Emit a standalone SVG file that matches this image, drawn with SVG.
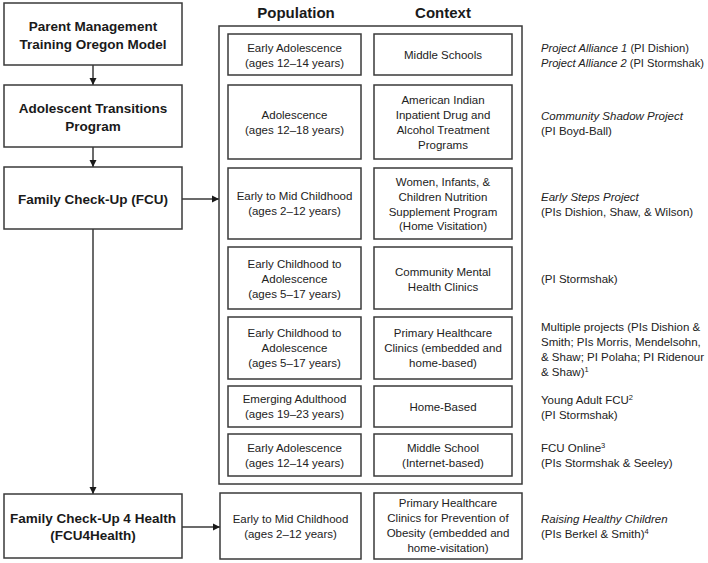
<svg xmlns="http://www.w3.org/2000/svg" width="708" height="563" viewBox="0 0 708 563">
<style>
.box{fill:#fff;stroke:#3a3a3a;stroke-width:1.5}
.b{font-family:"Liberation Sans",Arial,sans-serif;font-size:13.5px;font-weight:bold;fill:#1a1a1a;text-anchor:middle}
.h{font-family:"Liberation Sans",Arial,sans-serif;font-size:15px;font-weight:bold;fill:#1a1a1a;text-anchor:middle}
.t{font-family:"Liberation Sans",Arial,sans-serif;font-size:11.5px;fill:#222;text-anchor:middle}
.r{font-family:"Liberation Sans",Arial,sans-serif;font-size:11.5px;fill:#222}
.i{font-style:italic}
.c{fill:none;stroke:#3a3a3a;stroke-width:1.5}
</style>
<defs>
<marker id="ah" viewBox="0 0 10 10" refX="10" refY="5" markerWidth="5" markerHeight="5" markerUnits="strokeWidth" orient="auto">
<path d="M0,0 L10,5 L0,10 z" fill="#1a1a1a"/>
</marker>
</defs>
<g id="connectors">
<line class="c" x1="93" y1="65" x2="93" y2="85" marker-end="url(#ah)"/>
<line class="c" x1="93" y1="147" x2="93" y2="167" marker-end="url(#ah)"/>
<line class="c" x1="93" y1="229" x2="93" y2="494" marker-end="url(#ah)"/>
<line class="c" x1="182" y1="199" x2="219" y2="199" marker-end="url(#ah)"/>
<line class="c" x1="182" y1="527" x2="220" y2="527" marker-end="url(#ah)"/>
</g>
<g id="pmto"><rect class="box" x="4" y="3" width="178" height="62"/>
<text class="b" x="93" y="31">Parent Management</text><text class="b" x="93" y="49">Training Oregon Model</text></g>
<g id="atp"><rect class="box" x="4" y="85" width="178" height="62"/>
<text class="b" x="93" y="113">Adolescent Transitions</text><text class="b" x="93" y="131">Program</text></g>
<g id="fcu"><rect class="box" x="4" y="167" width="178" height="62"/>
<text class="b" x="93" y="204">Family Check-Up (FCU)</text></g>
<g id="fcu4h"><rect class="box" x="4" y="494" width="178" height="64"/>
<text class="b" x="93" y="523">Family Check-Up 4 Health</text><text class="b" x="93" y="540">(FCU4Health)</text></g>
<g id="headers"><text class="h" x="296" y="18">Population</text><text class="h" x="443" y="18">Context</text></g>
<g id="container"><rect class="box" x="219" y="26" width="303" height="458"/></g>
<g id="row1">
<rect class="box" x="228" y="34" width="133" height="41"/>
<text class="t" x="294.5" y="52">Early Adolescence</text><text class="t" x="294.5" y="67">(ages 12–14 years)</text>
<rect class="box" x="374" y="34" width="138" height="41"/>
<text class="t" x="443" y="59">Middle Schools</text>
</g>
<g id="row2">
<rect class="box" x="228" y="85" width="133" height="74"/>
<text class="t" x="294.5" y="119">Adolescence</text><text class="t" x="294.5" y="134">(ages 12–18 years)</text>
<rect class="box" x="374" y="85" width="138" height="74"/>
<text class="t" x="443" y="104">American Indian</text><text class="t" x="443" y="119">Inpatient Drug and</text><text class="t" x="443" y="134">Alcohol Treatment</text><text class="t" x="443" y="149">Programs</text>
</g>
<g id="row3">
<rect class="box" x="228" y="168" width="133" height="71"/>
<text class="t" x="294.5" y="200">Early to Mid Childhood</text><text class="t" x="294.5" y="215">(ages 2–12 years)</text>
<rect class="box" x="374" y="168" width="138" height="71"/>
<text class="t" x="443" y="186">Women, Infants, &amp;</text><text class="t" x="443" y="201">Children Nutrition</text><text class="t" x="443" y="216">Supplement Program</text><text class="t" x="443" y="230">(Home Visitation)</text>
</g>
<g id="row4">
<rect class="box" x="228" y="247" width="133" height="62"/>
<text class="t" x="294.5" y="268">Early Childhood to</text><text class="t" x="294.5" y="283">Adolescence</text><text class="t" x="294.5" y="298">(ages 5–17 years)</text>
<rect class="box" x="374" y="247" width="138" height="62"/>
<text class="t" x="443" y="276">Community Mental</text><text class="t" x="443" y="291">Health Clinics</text>
</g>
<g id="row5">
<rect class="box" x="228" y="317" width="133" height="62"/>
<text class="t" x="294.5" y="337">Early Childhood to</text><text class="t" x="294.5" y="352">Adolescence</text><text class="t" x="294.5" y="367">(ages 5–17 years)</text>
<rect class="box" x="374" y="317" width="138" height="62"/>
<text class="t" x="443" y="337">Primary Healthcare</text><text class="t" x="443" y="352">Clinics (embedded and</text><text class="t" x="443" y="367">home-based)</text>
</g>
<g id="row6">
<rect class="box" x="228" y="386" width="133" height="41"/>
<text class="t" x="294.5" y="403">Emerging Adulthood</text><text class="t" x="294.5" y="418">(ages 19–23 years)</text>
<rect class="box" x="374" y="386" width="138" height="41"/>
<text class="t" x="443" y="411">Home-Based</text>
</g>
<g id="row7">
<rect class="box" x="228" y="434" width="133" height="42"/>
<text class="t" x="294.5" y="452">Early Adolescence</text><text class="t" x="294.5" y="467">(ages 12–14 years)</text>
<rect class="box" x="374" y="434" width="138" height="42"/>
<text class="t" x="443" y="452">Middle School</text><text class="t" x="443" y="467">(Internet-based)</text>
</g>
<g id="row8">
<rect class="box" x="220" y="493" width="141" height="66"/>
<text class="t" x="290.5" y="523">Early to Mid Childhood</text><text class="t" x="290.5" y="538">(ages 2–12 years)</text>
<rect class="box" x="374" y="493" width="148" height="66"/>
<text class="t" x="448" y="507">Primary Healthcare</text><text class="t" x="448" y="522">Clinics for Prevention of</text><text class="t" x="448" y="537">Obesity (embedded and</text><text class="t" x="448" y="552">home-visitation)</text>
</g>
<g id="projects">
<text class="r" x="541" y="52" textLength="148" lengthAdjust="spacingAndGlyphs"><tspan class="i">Project Alliance 1</tspan> (PI Dishion)</text>
<text class="r" x="541" y="67" textLength="163" lengthAdjust="spacingAndGlyphs"><tspan class="i">Project Alliance 2</tspan> (PI Stormshak)</text>
<text class="r i" x="541" y="120">Community Shadow Project</text>
<text class="r" x="541" y="135">(PI Boyd-Ball)</text>
<text class="r i" x="541" y="201">Early Steps Project</text>
<text class="r" x="541" y="216">(PIs Dishion, Shaw, &amp; Wilson)</text>
<text class="r" x="541" y="283">(PI Stormshak)</text>
<text class="r" x="541" y="331">Multiple projects (PIs Dishion &amp;</text>
<text class="r" x="541" y="346">Smith; PIs Morris, Mendelsohn,</text>
<text class="r" x="541" y="361">&amp; Shaw; PI Polaha; PI Ridenour</text>
<text class="r" x="541" y="376">&amp; Shaw)<tspan font-size="7.5" dy="-4">1</tspan></text>
<text class="r" x="541" y="404">Young Adult FCU<tspan font-size="7.5" dy="-4">2</tspan></text>
<text class="r" x="541" y="419">(PI Stormshak)</text>
<text class="r" x="541" y="452">FCU Online<tspan font-size="7.5" dy="-4">3</tspan></text>
<text class="r" x="541" y="467">(PIs Stormshak &amp; Seeley)</text>
<text class="r i" x="541" y="523">Raising Healthy Children</text>
<text class="r" x="541" y="538">(PIs Berkel &amp; Smith)<tspan font-size="7.5" dy="-4">4</tspan></text>
</g>
</svg>
